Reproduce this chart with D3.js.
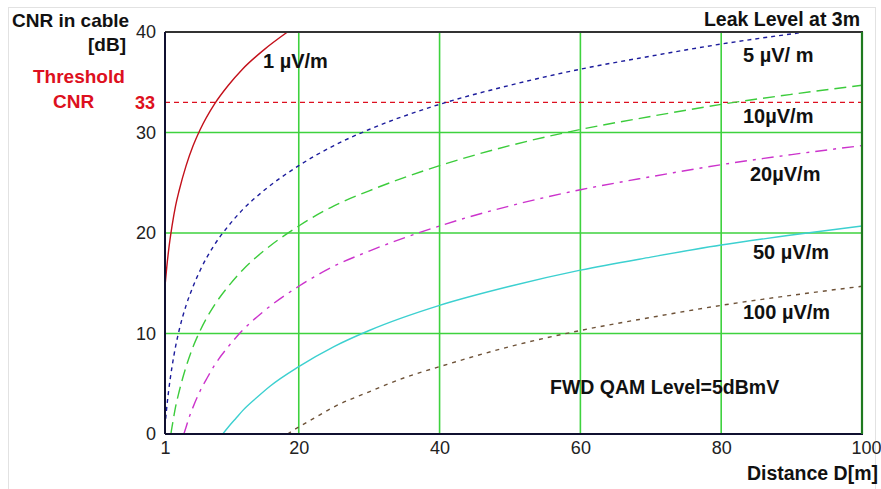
<!DOCTYPE html>
<html>
<head>
<meta charset="utf-8">
<script src="https://cdn.jsdelivr.net/npm/d3@7"></script>
<style>
  html, body { margin: 0; padding: 0; background: #fff; }
  svg { display: block; }
  text { font-family: "Liberation Sans", Arial, sans-serif; }
</style>
</head>
<body>
<svg id="chart" width="881" height="489"></svg>
<script>
// ---------- data ----------
const xTicks = [1, 20, 40, 60, 80, 100];
const yTicks = [0, 10, 20, 30, 40];
const thresholdCNR = 33;

const seriesLabels = ["1 \u00b5V/m", "5 \u00b5V/ m", "10\u00b5V/m", "20\u00b5V/m", "50 \u00b5V/m", "100 \u00b5V/m"];

const dist1uV   = [1, 1.25, 1.5, 2, 2.5, 3, 4, 5, 6, 8, 10, 12, 15, 18.4];
const cnr1uV    = [14.7, 16.6, 18.2, 20.7, 22.7, 24.2, 26.7, 28.7, 30.3, 32.8, 34.7, 36.3, 38.2, 40.0];

const dist5uV   = [1, 1.2, 1.5, 2, 2.5, 3, 4, 5, 6, 8, 10, 12, 15, 20, 25, 30, 40, 50, 60, 70, 80, 92];
const cnr5uV    = [0.7, 2.3, 4.2, 6.7, 8.7, 10.3, 12.8, 14.7, 16.3, 18.8, 20.7, 22.3, 24.2, 26.7, 28.7, 30.3, 32.8, 34.7, 36.3, 37.6, 38.8, 40.0];

const dist10uV  = [1.84, 1.9, 2, 2.5, 3, 4, 5, 6, 8, 10, 12, 15, 20, 25, 30, 40, 50, 60, 70, 80, 90, 100];
const cnr10uV   = [0, 0.3, 0.7, 2.7, 4.2, 6.7, 8.7, 10.3, 12.8, 14.7, 16.3, 18.2, 20.7, 22.7, 24.2, 26.7, 28.7, 30.3, 31.6, 32.8, 33.8, 34.7];

const dist20uV  = [3.68, 4, 4.5, 5, 6, 7, 8, 10, 12, 15, 20, 25, 30, 40, 50, 60, 70, 80, 90, 100];
const cnr20uV   = [0, 0.7, 1.8, 2.7, 4.3, 5.6, 6.8, 8.7, 10.3, 12.2, 14.7, 16.7, 18.2, 20.7, 22.7, 24.3, 25.6, 26.8, 27.8, 28.7];

const dist50uV  = [9.2, 10, 11, 12, 14, 16, 20, 25, 30, 40, 50, 60, 70, 80, 90, 100];
const cnr50uV   = [0, 0.7, 1.5, 2.3, 3.6, 4.8, 6.7, 8.7, 10.3, 12.8, 14.7, 16.3, 17.6, 18.8, 19.8, 20.7];

const dist100uV = [18.4, 20, 22, 25, 30, 35, 40, 50, 60, 70, 80, 90, 100];
const cnr100uV  = [0, 0.7, 1.5, 2.7, 4.2, 5.6, 6.7, 8.7, 10.3, 11.6, 12.8, 13.8, 14.7];

// ---------- styling per series ----------
const seriesData = [
  { label: seriesLabels[0], d: dist1uV,   v: cnr1uV,   color: "#c3101a", dash: null,       lx: 263, ly: 68 },
  { label: seriesLabels[1], d: dist5uV,   v: cnr5uV,   color: "#1c1c9c", dash: "4,4",      lx: 743, ly: 62 },
  { label: seriesLabels[2], d: dist10uV,  v: cnr10uV,  color: "#3ccc3c", dash: "12,6",     lx: 743, ly: 123 },
  { label: seriesLabels[3], d: dist20uV,  v: cnr20uV,  color: "#cc33cc", dash: "12,6,3,6", lx: 750, ly: 181 },
  { label: seriesLabels[4], d: dist50uV,  v: cnr50uV,  color: "#3cd0d0", dash: null,       lx: 753, ly: 259 },
  { label: seriesLabels[5], d: dist100uV, v: cnr100uV, color: "#6e5238", dash: "4,5",      lx: 743, ly: 319 }
];

const svg = d3.select("#chart");

// outer light frame
svg.append("rect").attr("x", 8.5).attr("y", 7.5).attr("width", 867).attr("height", 500)
  .attr("fill", "none").attr("stroke", "#e2e2e2").attr("stroke-width", 1);

const pL = 165, pR = 862, pT = 32, pB = 434;
const x = d3.scaleLinear().domain([1, 100]).range([pL, pR]);
const y = d3.scaleLinear().domain([0, 40]).range([pB, pT]);

// grid
const grid = svg.append("g");
grid.selectAll("line.v").data(xTicks.filter(t => t > 1 && t < 100)).join("line")
  .attr("x1", d => x(d)).attr("x2", d => x(d)).attr("y1", pT).attr("y2", pB)
  .attr("stroke", "#3ed23e").attr("stroke-width", 1.6);
grid.selectAll("line.h").data(yTicks.filter(t => t > 0 && t < 40)).join("line")
  .attr("x1", pL).attr("x2", pR).attr("y1", d => y(d)).attr("y2", d => y(d))
  .attr("stroke", "#3ed23e").attr("stroke-width", 1.6);

// threshold line
svg.append("line")
  .attr("x1", pL).attr("x2", pR).attr("y1", y(thresholdCNR)).attr("y2", y(thresholdCNR))
  .attr("stroke", "#dd1020").attr("stroke-width", 1.3).attr("stroke-dasharray", "5,4");

// clip
svg.append("clipPath").attr("id", "plotClip").append("rect")
  .attr("x", pL).attr("y", pT).attr("width", pR - pL).attr("height", pB - pT);

const line = d3.line().curve(d3.curveMonotoneX).x(p => x(p[0])).y(p => y(p[1]));

const curves = svg.append("g").attr("clip-path", "url(#plotClip)");
seriesData.forEach(s => {
  const pts = s.d.map((dd, i) => [dd, s.v[i]]);
  curves.append("path").datum(pts)
    .attr("d", line)
    .attr("fill", "none")
    .attr("stroke", s.color)
    .attr("stroke-width", 1.4)
    .attr("stroke-dasharray", s.dash);
});

// frame
svg.append("line").attr("x1", pL).attr("x2", pR + 1).attr("y1", pT).attr("y2", pT)
  .attr("stroke", "#333").attr("stroke-width", 2);
svg.append("line").attr("x1", pL).attr("x2", pR + 1).attr("y1", pB).attr("y2", pB)
  .attr("stroke", "#101030").attr("stroke-width", 2);
svg.append("line").attr("x1", pL).attr("x2", pL).attr("y1", pT).attr("y2", pB)
  .attr("stroke", "#101030").attr("stroke-width", 2);
svg.append("line").attr("x1", pR).attr("x2", pR).attr("y1", pT).attr("y2", pB)
  .attr("stroke", "#1f7a1f").attr("stroke-width", 2.2);

// axes
const yAxis = d3.axisLeft(y).tickValues(yTicks).tickSize(0).tickPadding(9);
const gy = svg.append("g").attr("transform", `translate(${pL},0)`).call(yAxis);
gy.select(".domain").remove();
gy.selectAll("text").attr("font-size", 18).attr("fill", "#222")
  .attr("font-family", "'Liberation Sans', Arial, sans-serif");

const xAxis = d3.axisBottom(x).tickValues(xTicks).tickSize(0).tickPadding(7).tickFormat(d3.format("d"));
const gx = svg.append("g").attr("transform", `translate(0,${pB})`).call(xAxis);
gx.select(".domain").remove();
gx.selectAll("text").attr("font-size", 18).attr("fill", "#222")
  .attr("font-family", "'Liberation Sans', Arial, sans-serif");
gx.selectAll(".tick").filter(d => d === 100).select("text").attr("dx", 4);

// threshold tick label
svg.append("text").attr("x", 155).attr("y", y(thresholdCNR)).attr("dy", "0.35em")
  .attr("text-anchor", "end").attr("font-size", 18).attr("font-weight", "bold")
  .attr("fill", "#dd1020").text(String(thresholdCNR));

// titles
const bold = (sel) => sel.attr("font-weight", "bold");
bold(svg.append("text").attr("x", 12).attr("y", 27).attr("font-size", 19).attr("fill", "#111").text("CNR in cable"));
bold(svg.append("text").attr("x", 126).attr("y", 51).attr("text-anchor", "end").attr("font-size", 19).attr("fill", "#111").text("[dB]"));
bold(svg.append("text").attr("x", 33).attr("y", 83).attr("font-size", 19).attr("fill", "#dd1020").text("Threshold"));
bold(svg.append("text").attr("x", 53).attr("y", 108).attr("font-size", 19).attr("fill", "#dd1020").text("CNR"));
bold(svg.append("text").attr("x", 860).attr("y", 26).attr("text-anchor", "end").attr("font-size", 19.5).attr("fill", "#111").text("Leak Level at 3m"));
bold(svg.append("text").attr("x", 878).attr("y", 480).attr("text-anchor", "end").attr("font-size", 19.5).attr("fill", "#111").text("Distance D[m]"));
bold(svg.append("text").attr("x", 550).attr("y", 394).attr("font-size", 19.5).attr("fill", "#111").text("FWD QAM Level=5dBmV"));

// curve labels
seriesData.forEach(s => {
  bold(svg.append("text").attr("x", s.lx).attr("y", s.ly).attr("font-size", 20).attr("fill", "#111").text(s.label));
});
</script>
</body>
</html>
